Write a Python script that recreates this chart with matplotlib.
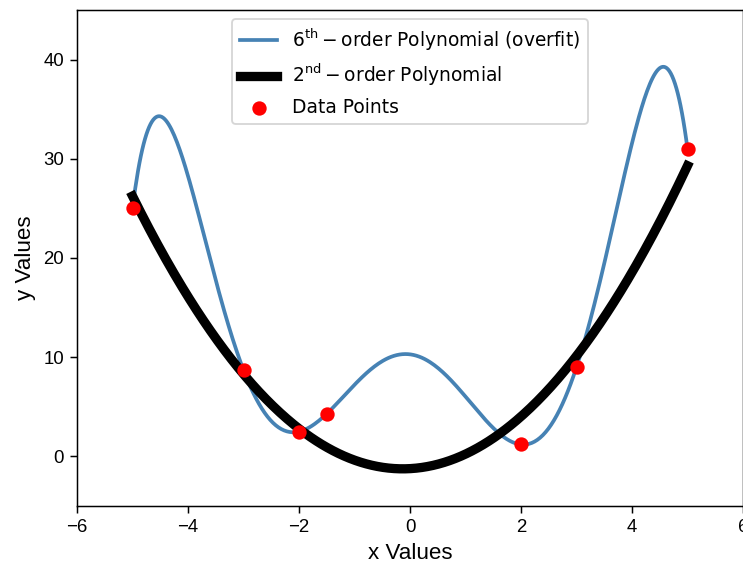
import numpy as np
import matplotlib
matplotlib.use("Agg")
import matplotlib.pyplot as plt

plt.rcParams["font.family"] = ["Liberation Sans", "DejaVu Sans"]

# Data points
x_data = np.array([-5.0, -3.0, -2.0, -1.5, 2.0, 3.0, 5.0])
y_data = np.array([25.0, 8.7, 2.5, 4.3, 1.2, 9.0, 31.0])

label_6 = r"$6^{\mathrm{th}}-$order Polynomial (overfit)"
label_2 = r"$2^{\mathrm{nd}}-$order Polynomial"
label_pts = "Data Points"

coef6 = np.polyfit(x_data, y_data, 6)
coef2 = np.polyfit(x_data, y_data, 2)
xs = np.linspace(x_data.min(), x_data.max(), 400)

dpi = 134
fig = plt.figure(figsize=(743 / dpi, 564 / dpi), dpi=dpi)
ax = fig.add_axes([77 / 743, 58 / 564, 666 / 743, 496 / 564])

ax.plot(xs, np.polyval(coef6, xs), color="steelblue", lw=2, label=label_6)
ax.plot(xs, np.polyval(coef2, xs), color="black", lw=5, label=label_2)
ax.scatter(x_data, y_data, color="red", s=45, zorder=3, label=label_pts)

ax.set_xlim(-6, 6)
ax.set_ylim(-5, 45)
ax.set_xlabel("x Values", fontsize=12)
ax.set_ylabel("y Values", fontsize=12)
ax.tick_params(labelsize=10)
ax.legend(loc="upper center", prop={"family": "DejaVu Sans", "size": 10})

fig.savefig("out.png", dpi=dpi)
